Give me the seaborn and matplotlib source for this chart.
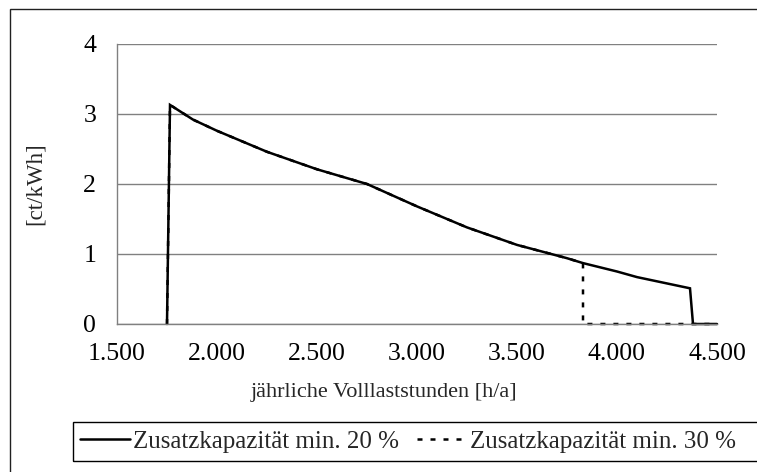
import matplotlib
matplotlib.use("Agg")
import matplotlib.pyplot as plt
from matplotlib.patches import Rectangle
from matplotlib.lines import Line2D
from matplotlib.ticker import FuncFormatter
import seaborn as sns
import pandas as pd

# Kostenverlauf über den jährlichen Volllaststunden
hours_20 = [1750, 1765, 1880, 2000, 2250, 2500, 2750, 3000, 3250, 3500, 3750, 3830, 4000, 4100, 4365, 4380, 4500]
cost_20 = [0.0, 3.13, 2.92, 2.76, 2.46, 2.21, 2.00, 1.68, 1.38, 1.13, 0.94, 0.87, 0.75, 0.67, 0.51, 0.0, 0.0]

hours_30 = [1750, 1765, 1880, 2000, 2250, 2500, 2750, 3000, 3250, 3500, 3750, 3830, 3830, 4500]
cost_30 = [0.0, 3.13, 2.92, 2.76, 2.46, 2.21, 2.00, 1.68, 1.38, 1.13, 0.94, 0.87, 0.0, 0.0]

series_names = ["Zusatzkapazität min. 20 %", "Zusatzkapazität min. 30 %"]
x_ticks = [1500, 2000, 2500, 3000, 3500, 4000, 4500]
y_ticks = [0, 1, 2, 3, 4]

df = pd.concat([
    pd.DataFrame({"h": hours_20, "ct": cost_20, "Reihe": series_names[0]}),
    pd.DataFrame({"h": hours_30, "ct": cost_30, "Reihe": series_names[1]}),
], ignore_index=True)

sns.set_theme(style="white")
plt.rcParams["font.family"] = ["Liberation Serif", "DejaVu Serif"]

DOTS = (2.0, 3.2)
LW = 1.8

W, H = 757, 472
fig = plt.figure(figsize=(W / 100, H / 100), dpi=100)
ax = fig.add_axes([117 / W, (H - 324) / H, 600 / W, 280 / H])

sns.lineplot(
    data=df, x="h", y="ct", style="Reihe", hue="Reihe",
    palette=["black", "black"],
    dashes={series_names[0]: "", series_names[1]: DOTS},
    estimator=None, sort=False, linewidth=LW, ax=ax, legend=False,
)
for ln in ax.lines:
    ln.set_clip_on(False)
    ln.set_solid_joinstyle("miter")
    ln.set_dash_capstyle("butt")

ax.set_xlim(1500, 4500)
ax.set_ylim(0, 4)
ax.set_xticks(x_ticks)
ax.set_yticks(y_ticks)
ax.xaxis.set_major_formatter(FuncFormatter(lambda v, p: f"{int(v):,}".replace(",", ".")))
ax.yaxis.set_major_formatter(FuncFormatter(lambda v, p: f"{int(v)}"))

ax.grid(axis="y", color="#808080", linewidth=1.0)
ax.grid(axis="x", visible=False)
ax.set_axisbelow(True)
for side in ("top", "right"):
    ax.spines[side].set_visible(False)
for side in ("left", "bottom"):
    ax.spines[side].set_color("#808080")
    ax.spines[side].set_linewidth(1.0)

ax.tick_params(axis="both", which="major", direction="out", length=6, width=1,
               color="#808080", labelsize=18.5, labelcolor="black")
ax.tick_params(axis="y", pad=9)
ax.tick_params(axis="x", pad=8)

ax.set_xlabel("jährliche Volllaststunden [h/a]", fontsize=16, va="center")
ax.set_ylabel("[ct/kWh]", fontsize=16.5, va="center")
ax.xaxis.set_label_coords((384 - 117) / 600, (324 - 392) / 280)
ax.yaxis.set_label_coords((35 - 117) / 600, 0.5)

# äußerer Rahmen
fig.patches.append(Rectangle((10 / W, -0.2), 2.0, 1.2 - 9 / H, transform=fig.transFigure,
                             fill=False, edgecolor="#202020", linewidth=1.0))
# Legendenrahmen
fig.patches.append(Rectangle((73 / W, (H - 461) / H), 2.0, 39 / H, transform=fig.transFigure,
                             fill=False, edgecolor="black", linewidth=1.0))

handles = [
    Line2D([], [], color="black", linewidth=LW),
    Line2D([], [], color="black", linewidth=LW, dashes=DOTS),
]
fig.legend(handles, series_names, loc="center left", bbox_to_anchor=(80 / W, (H - 441.5) / H),
           ncol=2, frameon=False, fontsize=18, handlelength=2.0, handletextpad=0.12,
           columnspacing=0.7, borderpad=0, borderaxespad=0)

fig.savefig("out.png", dpi=100, facecolor="white")
